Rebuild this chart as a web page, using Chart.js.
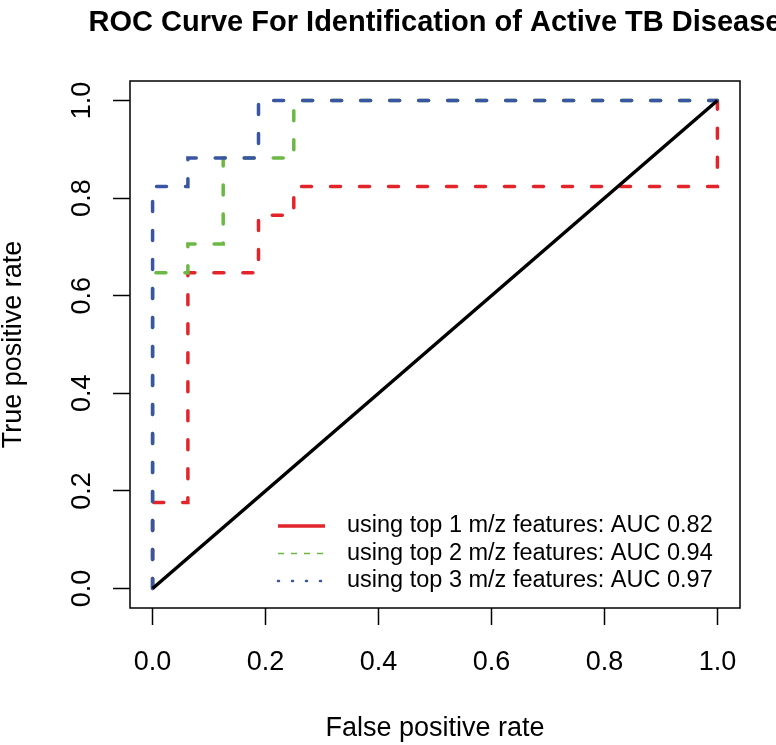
<!DOCTYPE html>
<html>
<head>
<meta charset="utf-8">
<script src="https://cdn.jsdelivr.net/npm/chart.js@4.4.1/dist/chart.umd.min.js"></script>
<style>
  html, body { margin: 0; padding: 0; background: #fff; }
  canvas { display: block; }
</style>
</head>
<body>
<canvas id="roc" width="776" height="745"></canvas>
<script>
// ROC curves (corner points of the step curves)
const fpr1 = [0, 0, 0.0625, 0.0625, 0.1875, 0.1875, 0.25, 0.25, 1, 1];
const tpr1 = [0, 0.176, 0.176, 0.647, 0.647, 0.765, 0.765, 0.824, 0.824, 1];
const fpr2 = [0, 0, 0.0625, 0.0625, 0.125, 0.125, 0.25, 0.25, 1];
const tpr2 = [0, 0.647, 0.647, 0.706, 0.706, 0.882, 0.882, 1, 1];
const fpr3 = [0, 0, 0.0625, 0.0625, 0.1875, 0.1875, 1];
const tpr3 = [0, 0.824, 0.824, 0.882, 0.882, 1, 1];
const diagX = [0, 1];
const diagY = [0, 1];

const seriesLabels = [
  'using top 1 m/z features: AUC 0.82',
  'using top 2 m/z features: AUC 0.94',
  'using top 3 m/z features: AUC 0.97'
];
const axisTicks = [0, 0.2, 0.4, 0.6, 0.8, 1.0];
const titleText = 'ROC Curve For Identification of Active TB Disease';

const RED = '#e3242b';
const GREEN = '#6cb844';
const BLUE = '#3a55a3';

const pts = (xs, ys) => xs.map((x, i) => ({x: x, y: ys[i]}));

// box, title, y tick labels and the legend drawn by hand
const extras = {
  id: 'extras',
  afterDraw(chart) {
    const ctx = chart.ctx;
    const a = chart.chartArea;
    ctx.save();
    ctx.strokeStyle = '#000';
    ctx.lineWidth = 1.5;
    ctx.strokeRect(a.left, a.top, a.right - a.left, a.bottom - a.top);

    // title
    ctx.fillStyle = '#000';
    ctx.font = 'bold 29px "Liberation Sans", Arial, sans-serif';
    ctx.textAlign = 'center';
    ctx.textBaseline = 'alphabetic';
    ctx.fillText(titleText, (a.left + a.right) / 2, 31);

    // rotated y tick labels
    const ys = chart.scales.y;
    ctx.font = '27px "Liberation Sans", Arial, sans-serif';
    ys.ticks.forEach(t => {
      const py = ys.getPixelForValue(t.value);
      ctx.save();
      ctx.translate(90, py);
      ctx.rotate(-Math.PI / 2);
      ctx.textAlign = 'center';
      ctx.textBaseline = 'alphabetic';
      ctx.fillText(t.value.toFixed(1), 0, 0);
      ctx.restore();
    });

    // legend
    const styles = [
      {c: RED, w: 3.5, dash: []},
      {c: GREEN, w: 1.5, dash: [6, 7]},
      {c: BLUE, w: 2.5, dash: [1, 13], cap: 'round'}
    ];
    ctx.font = '23.5px "Liberation Sans", Arial, sans-serif';
    ctx.textAlign = 'left';
    ctx.textBaseline = 'middle';
    seriesLabels.forEach((lab, i) => {
      const y = 526 + i * 27.5;
      const s = styles[i];
      ctx.beginPath();
      ctx.strokeStyle = s.c;
      ctx.lineWidth = s.w;
      ctx.lineCap = s.cap || 'butt';
      ctx.setLineDash(s.dash);
      ctx.moveTo(278, y);
      ctx.lineTo(325, y);
      ctx.stroke();
      ctx.setLineDash([]);
      ctx.fillStyle = '#000';
      ctx.fillText(lab, 347, y);
    });
    ctx.restore();
  }
};

const dashed = {borderWidth: 3.5, borderDash: [10, 19], borderCapStyle: 'round', pointRadius: 0, fill: false, tension: 0};

new Chart(document.getElementById('roc'), {
  type: 'line',
  data: {
    datasets: [
      Object.assign({label: seriesLabels[0], data: pts(fpr1, tpr1), borderColor: RED, order: 4}, dashed),
      Object.assign({label: seriesLabels[1], data: pts(fpr2, tpr2), borderColor: GREEN, order: 3}, dashed),
      Object.assign({label: seriesLabels[2], data: pts(fpr3, tpr3), borderColor: BLUE, order: 2}, dashed),
      {label: 'chance', data: pts(diagX, diagY), borderColor: '#000', borderWidth: 3.5, pointRadius: 0, order: 1}
    ]
  },
  options: {
    responsive: false,
    animation: false,
    layout: {padding: {top: 81, right: 36, left: 0, bottom: 0}},
    plugins: {legend: {display: false}, title: {display: false}, tooltip: {enabled: false}},
    scales: {
      x: {
        type: 'linear',
        min: -0.04, max: 1.04,
        afterBuildTicks: s => { s.ticks = axisTicks.map(v => ({value: v})); },
        afterFit: s => { s.height = 137; },
        border: {display: false},
        grid: {drawOnChartArea: false, drawTicks: true, tickLength: 17, tickColor: '#000', tickWidth: 1.5},
        ticks: {
          color: '#000', padding: 21,
          font: {family: '"Liberation Sans", Arial, sans-serif', size: 27},
          callback: v => v.toFixed(1),
          maxRotation: 0, autoSkip: false
        },
        title: {display: true, text: 'False positive rate', color: '#000',
          font: {family: '"Liberation Sans", Arial, sans-serif', size: 27, lineHeight: 1.2},
          padding: {top: 0, bottom: 0}}
      },
      y: {
        type: 'linear',
        min: -0.04, max: 1.04,
        afterBuildTicks: s => { s.ticks = axisTicks.map(v => ({value: v})); },
        afterFit: s => { s.width = 130; },
        border: {display: false},
        grid: {drawOnChartArea: false, drawTicks: true, tickLength: 17, tickColor: '#000', tickWidth: 1.5},
        ticks: {display: false},
        title: {display: true, text: 'True positive rate', color: '#000',
          font: {family: '"Liberation Sans", Arial, sans-serif', size: 27, lineHeight: 1.0},
          padding: 0}
      }
    }
  },
  plugins: [extras]
});
</script>
</body>
</html>
